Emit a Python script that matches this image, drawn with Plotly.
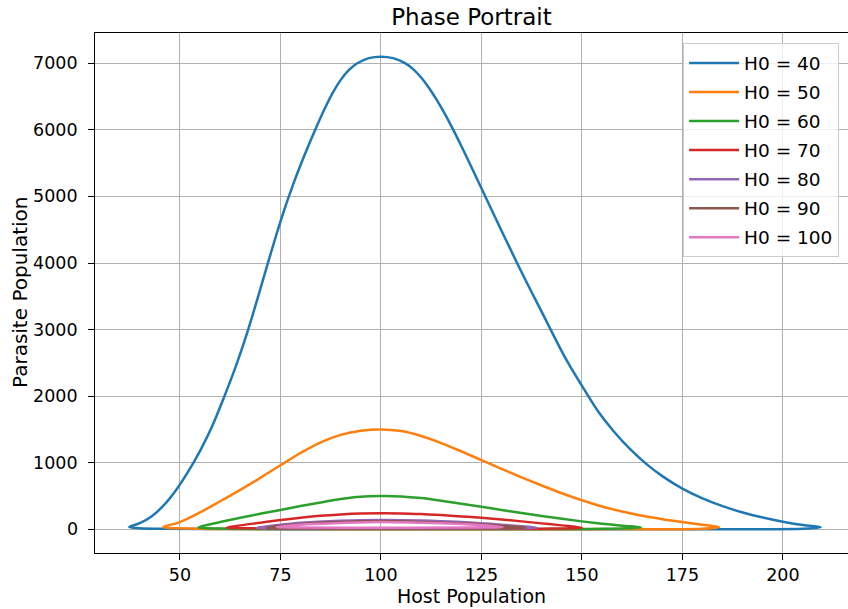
import plotly.graph_objects as go

# ---- data ----
labels = ["H0 = 40", "H0 = 50", "H0 = 60", "H0 = 70", "H0 = 80", "H0 = 90", "H0 = 100"]
colors = ["#1f77b4", "#ff7f0e", "#2ca02c", "#d62728", "#9467bd", "#8c564b", "#e377c2"]

h40_host = [37.4, 40, 43, 46, 49, 52, 55, 58, 61, 64, 66, 68, 70, 72, 74, 76, 78, 80, 82, 84, 86, 88, 90, 92, 94, 97,
            100, 103, 106, 108, 110, 112, 114, 116, 118, 120, 122, 125, 130, 135, 140, 146, 151.2,
            154, 158, 162, 166, 170, 175, 180, 185, 190, 195, 200, 205, 209.4,
            205, 190, 170, 150, 120, 100, 80, 60, 45, 40, 37.4]
h40_para = [35, 93, 198, 363, 588, 863, 1178, 1548, 1990, 2466, 2819, 3204, 3612, 4026, 4429, 4808, 5155, 5472, 5769,
            6052, 6318, 6556, 6751, 6896, 6996, 7078,
            7100, 7078, 7003, 6913, 6786, 6626, 6438, 6228, 6000, 5758, 5507, 5124, 4486, 3861, 3266, 2560, 2040,
            1774, 1466, 1204, 984, 800, 613, 466, 349, 254, 177, 115, 64, 32,
            8, 3, 2, 2, 2, 2, 3, 5, 10, 18, 35]

h50_host = [45.8, 50, 55, 60, 65, 70, 75, 80, 85, 90, 95, 100, 105, 110, 115, 120, 125, 130,
            135, 140, 145, 150, 155, 160, 165, 170, 175, 180, 184.1,
            180, 160, 140, 120, 100, 80, 60, 50, 45.8]
h50_para = [35, 109, 254, 422, 594, 774, 962, 1147, 1307, 1419, 1481, 1501, 1476, 1403, 1296, 1171, 1040, 909,
            781, 659, 543, 437, 344, 267, 203, 153, 110, 69, 33,
            8, 4, 3, 3, 3, 4, 6, 15, 35]

h60_host = [54.6, 57, 60, 65, 70, 75, 80, 85, 90, 95, 100, 105, 110, 115, 120, 125, 130, 135, 140,
            145, 150, 155, 160, 164.7,
            155, 130, 100, 80, 60, 54.6]
h60_para = [30, 70, 110, 175, 235, 290, 350, 405, 455, 490, 500, 495, 470, 430, 385, 340, 290, 245, 200,
            160, 120, 85, 55, 30,
            8, 5, 5, 6, 12, 30]

h70_host = [61.6, 65, 70, 75, 80, 85, 90, 95, 100, 105, 110, 115, 120, 125, 130, 135, 140, 145, 150,
            140, 120, 100, 80, 65, 61.6]
h70_para = [25, 60, 100, 140, 175, 205, 225, 238, 242, 240, 230, 215, 195, 175, 150, 120, 90, 60, 25,
            10, 8, 8, 10, 18, 25]

h80_host = [69, 75, 80, 90, 100, 110, 120, 130, 138.8, 125, 100, 80, 69]
h80_para = [25, 70, 100, 130, 142, 135, 110, 70, 25, 14, 12, 14, 25]

h90_host = [71.5, 80, 90, 100, 110, 120, 130, 136, 120, 100, 80, 71.5]
h90_para = [25, 80, 110, 125, 112, 90, 55, 25, 18, 16, 18, 25]

h100_host = [74, 80, 90, 100, 110, 120, 130.3, 120, 100, 80, 74]
h100_para = [35, 70, 95, 110, 98, 80, 35, 28, 25, 28, 35]

hosts = [h40_host, h50_host, h60_host, h70_host, h80_host, h90_host, h100_host]
paras = [h40_para, h50_para, h60_para, h70_para, h80_para, h90_para, h100_para]

x_ticks = [50, 75, 100, 125, 150, 175, 200]
y_ticks = [0, 1000, 2000, 3000, 4000, 5000, 6000, 7000]

fig = go.Figure()
for i, (lab, col, hx, py) in enumerate(zip(labels, colors, hosts, paras)):
    fig.add_trace(go.Scatter(x=hx, y=py, mode="lines", name=lab, legendgroup=f"g{i}",
                             line=dict(color=col, width=2.5, shape="spline", smoothing=1.0)))

font_family = "DejaVu Sans"
annotations = [dict(text="Parasite Population", xref="paper", yref="paper",
                    x=(20 - 95) / 753, y=0.5, xanchor="center", yanchor="middle",
                    textangle=-90, showarrow=False,
                    font=dict(size=20, family=font_family, color="black"))]
for v in y_ticks:
    annotations.append(dict(text=str(v), xref="paper", yref="y", x=(80 - 95) / 753, y=v,
                            xanchor="right", yanchor="middle", showarrow=False,
                            font=dict(size=17.5, family=font_family, color="black")))

fig.update_layout(
    width=848, height=609,
    margin=dict(l=95, r=0, t=33, b=56),
    paper_bgcolor="white", plot_bgcolor="white",
    font=dict(family=font_family, color="black", size=17),
    title=dict(text="Phase Portrait", x=0.5, xref="paper", xanchor="center",
               y=0.972, yref="container", yanchor="middle",
               font=dict(size=23, family=font_family, color="black")),
    showlegend=True,
    legend=dict(x=0.781, y=0.98, xanchor="left", yanchor="top",
                bgcolor="rgba(255,255,255,0.8)", bordercolor="#cccccc", borderwidth=1,
                font=dict(size=18.5, family=font_family, color="black"),
                itemwidth=50, tracegroupgap=2),
    annotations=annotations,
)
fig.update_xaxes(range=[28.86, 216.2], tickvals=x_ticks, ticktext=[str(v) for v in x_ticks],
                 showgrid=True, gridcolor="#b0b0b0", gridwidth=1,
                 showline=True, linecolor="black", linewidth=1.3, mirror=True,
                 ticks="outside", ticklen=6, tickcolor="black", tickwidth=1.3,
                 zeroline=False, tickfont=dict(size=17.5),
                 title=dict(text="Host Population", font=dict(size=19), standoff=4))
fig.update_yaxes(range=[-355, 7455], tickvals=y_ticks, showticklabels=False,
                 showgrid=True, gridcolor="#b0b0b0", gridwidth=1,
                 showline=True, linecolor="black", linewidth=1.3, mirror=False,
                 ticks="outside", ticklen=6, tickcolor="black", tickwidth=1.3,
                 zeroline=False)

fig.write_html("out.html")
